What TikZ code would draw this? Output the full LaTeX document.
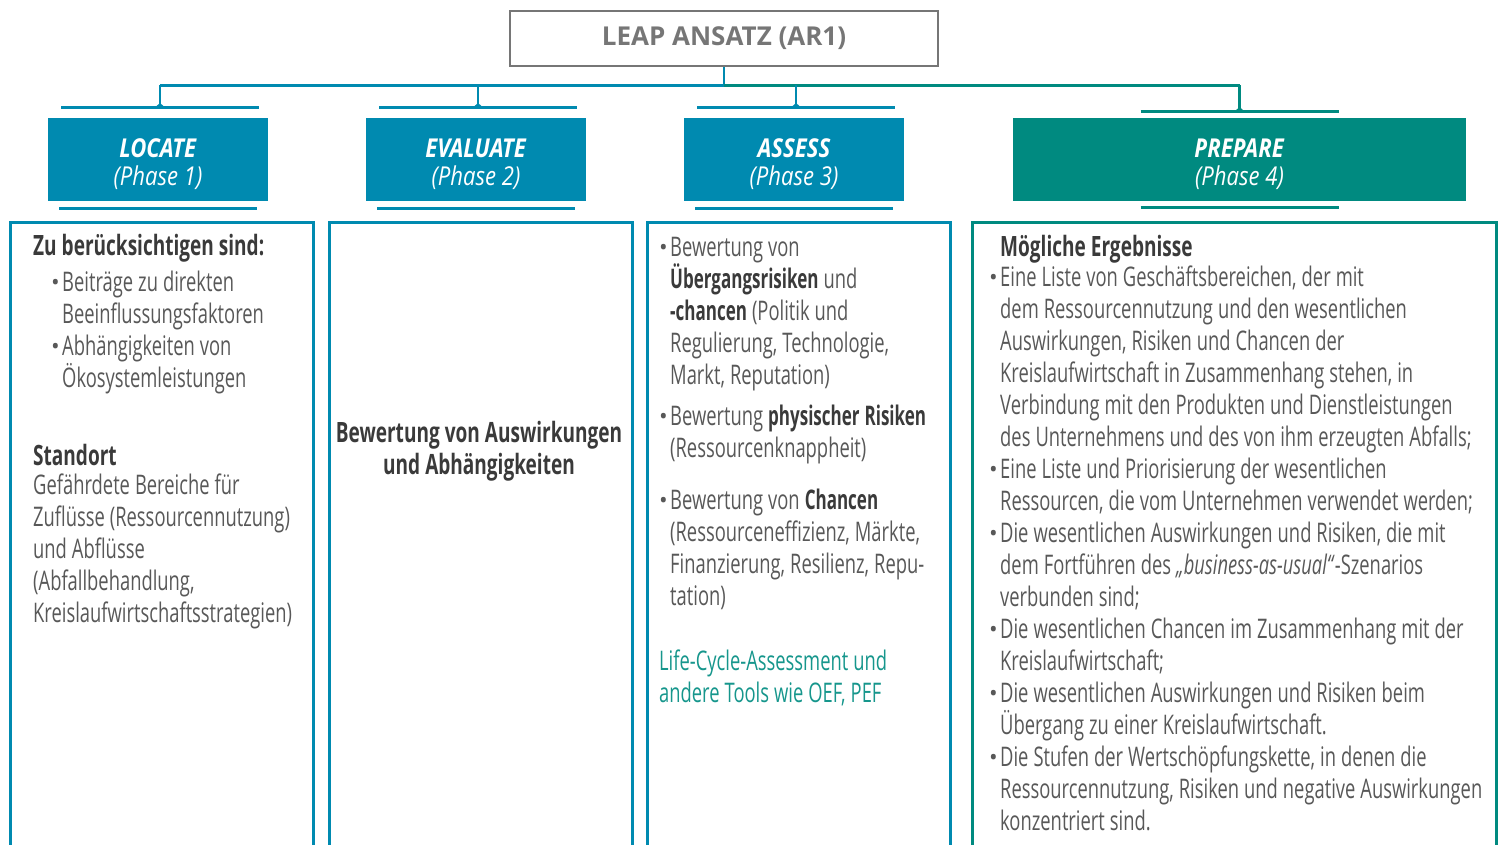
\documentclass[tikz,border=0pt]{standalone}
\usepackage{fontspec}
\setmainfont{Open Sans}[FakeStretch=0.68]
\newfontfamily\titlefont{Open Sans}
\newfontfamily\headfont{Open Sans}[FakeStretch=0.85]
\newfontfamily\semifont{Open Sans}[FakeStretch=0.63]
\usetikzlibrary{arrows.meta,positioning}

\definecolor{leapblue}{RGB}{0,138,176}
\definecolor{leapgreen}{RGB}{0,138,128}
\definecolor{framegray}{RGB}{118,118,118}
\definecolor{textgray}{RGB}{88,88,88}
\definecolor{darkgray}{RGB}{58,58,58}
\definecolor{tealtext}{RGB}{22,150,140}

\newcommand\bul{\leavevmode\llap{\raisebox{1pt}{\titlefont\fontsize{23}{23}\selectfont\textbullet}\hspace{2.5pt}}}
\newcommand\hl[1]{{\semifont\bfseries\color{darkgray}#1}}
\newcommand\tightspace{\spaceskip=5pt plus 1pt minus 1pt}

\tikzset{
    titlebox/.style={draw=framegray, line width=2.5pt, minimum width=428, minimum height=55,
        inner sep=0, text=framegray, font=\titlefont\bfseries\fontsize{26}{28}\selectfont},
    phase/.style={fill=#1, minimum width=220, minimum height=83, inner sep=0},
    phasetext/.style={text=white, align=center, inner sep=0,
        font=\headfont\fontsize{26}{28}\selectfont},
    panel/.style={draw=#1, line width=2.5pt, minimum width=303, minimum height=650,
        anchor=north west, inner sep=0},
    bar/.style={draw=#1, line width=3pt},
    link/.style={draw=#1, line width=2.5pt},
    heading/.style={anchor=base west, inner sep=0, text width=#1, align=flush left,
        text=darkgray, font=\bfseries\fontsize{28}{32}\selectfont\tightspace},
    heading/.default=320,
    body/.style={anchor=base west, inner sep=0, text width=#1, align=flush left,
        text=textgray, font=\fontsize{27}{32}\selectfont\tightspace},
    body/.default=495
}

\begin{document}
\begin{tikzpicture}[x=1pt,y=-1pt]

\useasboundingbox (0,0) rectangle (1498,844);

\node[titlebox] (title) at (724,38.5) {LEAP ANSATZ (AR1)};

% phase headers
\node[phase=leapblue] (h1) at (158,159.5) {};
\node[phase=leapblue] (h2) at (476,159.5) {};
\node[phase=leapblue] (h3) at (794,159.5) {};
\node[phase=leapgreen, minimum width=453] (h4) at (1239.5,159.5) {};
\node[phasetext] (n1) at ([yshift=-5pt]h1.center) {\textbf{\textit{LOCATE}}\\\textit{(Phase 1)}};
\node[phasetext] (n2) at ([yshift=-5pt]h2.center) {\textbf{\textit{EVALUATE}}\\\textit{(Phase 2)}};
\node[phasetext] (n3) at ([yshift=-5pt]h3.center) {\textbf{\textit{ASSESS}}\\\textit{(Phase 3)}};
\node[phasetext] (n4) at ([yshift=-5pt]h4.center) {\textbf{\textit{PREPARE}}\\\textit{(Phase 4)}};

\foreach \i in {1,2,3}
{
    \coordinate (tb\i) at ([xshift=2pt,yshift=10pt]h\i.north);
    \draw[bar=leapblue] ([xshift=-99pt]tb\i) -- ([xshift=99pt]tb\i);
    \draw[bar=leapblue] ([xshift=-99pt,yshift=-7pt]h\i.south) -- ([xshift=99pt,yshift=-7pt]h\i.south);
}
\coordinate (tb4) at ([yshift=6pt]h4.north);
\draw[bar=leapgreen] ([xshift=-99pt]tb4) -- ([xshift=99pt]tb4);
\draw[bar=leapgreen] ([xshift=-99pt,yshift=-6pt]h4.south) -- ([xshift=99pt,yshift=-6pt]h4.south);

% tree
\coordinate (hub) at ([yshift=-18pt]title.south);
\draw[link=leapblue] (title.south) -- (hub);
\draw[link=leapblue] (tb1 |- hub) -- (tb3 |- hub);
\draw[link=leapgreen] (hub) -- (tb4 |- hub);
\foreach \i in {1,2,3}
    \draw[link=leapblue, -{Triangle[reversed,width=10pt,length=5pt]}] (tb\i |- hub) -- (tb\i);
\draw[link=leapgreen, -{Triangle[reversed,width=10pt,length=5pt]}] (tb4 |- hub) -- (tb4);

% panels
\node[panel=leapblue] (p1) at (9,221) {};
\node[panel=leapblue] (p2) at (328,221) {};
\node[panel=leapblue] (p3) at (646,221) {};
\node[panel=leapgreen, minimum width=524] (p4) at (971,221) {};

% LOCATE
\node[heading] (c1h) at (33,255) {Zu berücksichtigen sind:};
\node[body] (c1l) at (62,291) {\bul Beiträge zu direkten\\ Beeinflussungsfaktoren\\
    \bul Abhängigkeiten von\\ Ökosystemleistungen};
\node[heading] (c1s) at (33,465) {Standort};
\node[body] (c1t) at (33,494) {Gefährdete Bereiche für\\ Zuflüsse (Ressourcennutzung)\\
    und Abflüsse\\ (Abfallbehandlung,\\ Kreislaufwirtschaftsstrategien)};

% EVALUATE
\node[heading=300, anchor=base, align=flush center] (c2) at (479,442) {Bewertung von Auswirkungen\\ und Abhängigkeiten};

% ASSESS
\node[body] (c3a) at (670,256) {\bul Bewertung von\\ \hl{Übergangsrisiken} und\\
    \hl{-chancen} (Politik und\\ Regulierung, Technologie,\\ Markt, Reputation)};
\node[body] (c3b) at (670,425) {\bul Bewertung \hl{physischer Risiken}\\ (Ressourcenknappheit)};
\node[body] (c3c) at (670,509) {\bul Bewertung von \hl{Chancen}\\ (Ressourceneffizienz, Märkte,\\
    Finanzierung, Resilienz, Repu-\\ tation)};
\node[body, text=tealtext] (c3d) at (659,670) {Life-Cycle-Assessment und\\ andere Tools wie OEF, PEF};

% PREPARE
\node[heading] (c4h) at (1000,256) {Mögliche Ergebnisse};
\node[body] (c4l) at (1000,286) {\bul Eine Liste von Geschäftsbereichen, der mit\\
    dem Ressourcennutzung und den wesentlichen\\
    Auswirkungen, Risiken und Chancen der\\
    Kreislaufwirtschaft in Zusammenhang stehen, in\\
    Verbindung mit den Produkten und Dienstleistungen\\
    des Unternehmens und des von ihm erzeugten Abfalls;\\
    \bul Eine Liste und Priorisierung der wesentlichen\\
    Ressourcen, die vom Unternehmen verwendet werden;\\
    \bul Die wesentlichen Auswirkungen und Risiken, die mit\\
    dem Fortführen des \textit{„business-as-usual“}-Szenarios\\
    verbunden sind;\\
    \bul Die wesentlichen Chancen im Zusammenhang mit der\\
    Kreislaufwirtschaft;\\
    \bul Die wesentlichen Auswirkungen und Risiken beim\\
    Übergang zu einer Kreislaufwirtschaft.\\
    \bul Die Stufen der Wertschöpfungskette, in denen die\\
    Ressourcennutzung, Risiken und negative Auswirkungen\\
    konzentriert sind.};

\end{tikzpicture}
\end{document}
